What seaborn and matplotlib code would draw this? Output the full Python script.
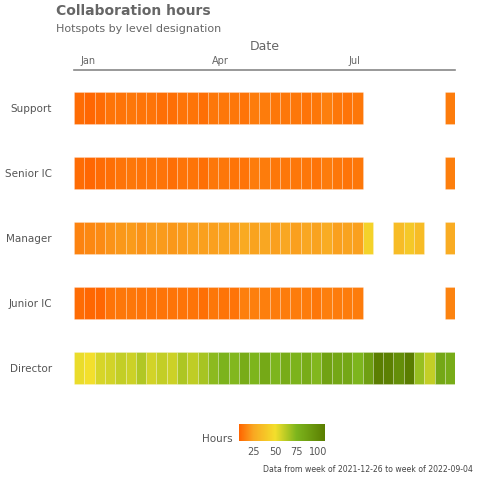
import numpy as np
import pandas as pd
import matplotlib
matplotlib.use("Agg")
import matplotlib.pyplot as plt
import matplotlib.dates as mdates
from matplotlib.colors import LinearSegmentedColormap
import seaborn as sns

nan = np.nan

# weekly buckets, week of 2021-12-26 .. week of 2022-09-04
weeks = pd.date_range("2021-12-26", "2022-09-04", freq="7D")
levels = ["Support", "Senior IC", "Manager", "Junior IC", "Director"]
gap8 = [nan] * 8

support = [10, 9, 10, 12, 12, 13, 12, 12, 11, 11, 12, 12, 11, 13, 13, 13, 12, 14,
           14, 13, 13, 13, 12, 13, 15, 13, 12, 13] + gap8 + [14]
senior_ic = [10, 9, 10, 11, 12, 13, 12, 12, 12, 11, 12, 12, 11, 13, 13, 12, 12, 14,
             14, 13, 13, 13, 13, 12, 14, 13, 12, 13] + gap8 + [15]
manager = [16, 17, 18, 20, 21, 22, 20, 22, 22, 21, 22, 23, 23, 23, 24, 23, 26, 24,
           25, 23, 25, 23, 25, 24, 27, 23, 24, 23, 44, nan, nan, 34, 40, 34, nan, nan, 27]
junior_ic = [10, 9, 9, 12, 13, 13, 12, 12, 12, 12, 12, 12, 11, 13, 12, 12, 15, 15,
             15, 14, 14, 14, 14, 13, 15, 14, 14, 14] + gap8 + [16]
director = [52, 50, 56, 57, 60, 58, 64, 57, 60, 58, 65, 61, 66, 72, 76, 74, 80, 75,
            82, 75, 80, 76, 80, 74, 86, 83, 83, 75, 88, 107, 106, 98, 108, 69, 60, 83, 80]

rows = [support, senior_ic, manager, junior_ic, director]

sns.set_theme(style="white")
plt.rcParams["font.family"] = ["DejaVu Sans"]

vmin, vmax = 8, 108
stops = [(8, "#ff6400"), (25, "#f9a822"), (50, "#f3df2c"), (75, "#7db51d"), (108, "#5a7d00")]
cmap = LinearSegmentedColormap.from_list(
    "hours", [((v - vmin) / (vmax - vmin), c) for v, c in stops])
norm = plt.Normalize(vmin, vmax)

fig = plt.figure(figsize=(4.8, 4.8), dpi=100)
ax = fig.add_axes([74 / 480, 1 - 407 / 480, (455.3 - 74) / 480, 337 / 480])

for i, vals in enumerate(rows):
    vals = np.array(vals, dtype=float)
    ok = ~np.isnan(vals)
    ax.bar(weeks[ok], 0.5, bottom=i - 0.25, width=7,
           color=cmap(norm(vals[ok])), edgecolor=(1, 1, 1, 0.25), linewidth=0.6)

ax.set_xlim(weeks[0] - pd.Timedelta(days=3.5), weeks[-1] + pd.Timedelta(days=3.5))
ax.set_ylim(4.6, -0.585)
ax.set_yticks(range(len(levels)))
ax.set_yticklabels(levels)
ax.xaxis.tick_top()
ax.xaxis.set_label_position("top")
ax.xaxis.set_major_locator(mdates.MonthLocator(bymonth=[1, 4, 7]))
ax.xaxis.set_major_formatter(mdates.DateFormatter("%b"))
ax.set_xlabel("Date", fontsize=9, color="#666666", labelpad=4)
ax.tick_params(axis="x", length=0, pad=3, labelsize=7, labelcolor="#666666")
ax.tick_params(axis="y", length=0, pad=16, labelsize=7.5, labelcolor="#555555")
for s in ["left", "right", "bottom"]:
    ax.spines[s].set_visible(False)
ax.spines["top"].set_color("#888888")
ax.spines["top"].set_linewidth(1.2)

fig.text(56 / 480, 1 - 11 / 480, "Collaboration hours", fontsize=10, fontweight="bold",
         color="#666666", va="center", ha="left")
fig.text(56 / 480, 1 - 29 / 480, "Hotspots by level designation", fontsize=8,
         color="#666666", va="center", ha="left")

cax = fig.add_axes([239 / 480, 1 - 441 / 480, 86 / 480, 17 / 480])
sm = plt.cm.ScalarMappable(norm=norm, cmap=cmap)
cb = fig.colorbar(sm, cax=cax, orientation="horizontal", ticks=[25, 50, 75, 100])
cb.outline.set_visible(False)
cax.tick_params(axis="x", direction="in", length=12, color=(1, 1, 1, 0.6), width=0.6,
                labelsize=7, labelcolor="#555555", pad=4)
fig.text(233 / 480, 1 - 439 / 480, "Hours", fontsize=7.5, color="#555555",
         ha="right", va="center")

fig.text(473 / 480, 1 - 470 / 480, "Data from week of 2021-12-26 to week of 2022-09-04",
         fontsize=5.6, color="#444444", ha="right", va="center")

fig.savefig("out.png", dpi=100)
